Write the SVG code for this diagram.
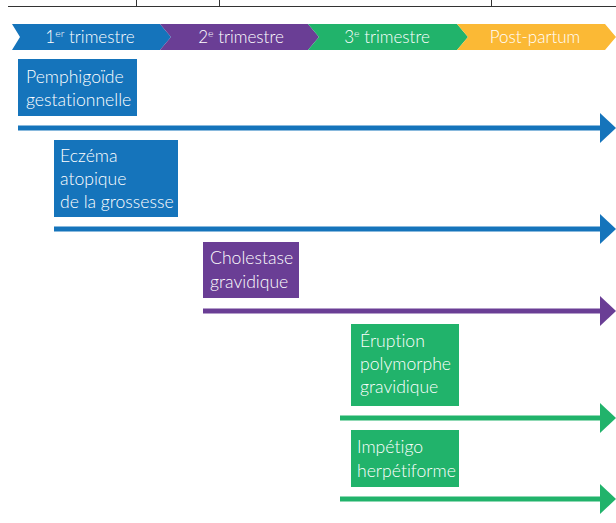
<svg xmlns="http://www.w3.org/2000/svg" width="616" height="523" viewBox="0 0 616 523">
<style>
.t{font-family:Lato,"Liberation Sans",sans-serif;font-size:17.6px;font-weight:300;fill:#ffffff;font-variant-ligatures:none}
.h{font-family:Lato,"Liberation Sans",sans-serif;font-size:17px;font-weight:300;fill:#ffffff;text-anchor:middle}
.s{font-size:10.5px}
.blue{fill:#1574bb}
.purple{fill:#6a3e95}
.green{fill:#21b36b}
.yellow{fill:#fbb935}
.lb{stroke:#1574bb;stroke-width:5;fill:none}
.lp{stroke:#6a3e95;stroke-width:5;fill:none}
.lg{stroke:#21b36b;stroke-width:5;fill:none}
</style>
<rect width="616" height="523" fill="#ffffff"/>
<g id="table-edge" stroke="#333333" stroke-width="1" fill="none">
<line x1="8" y1="6.5" x2="616" y2="6.5"/>
<line x1="136.5" y1="0" x2="136.5" y2="6.5"/>
<line x1="219.5" y1="0" x2="219.5" y2="6.5"/>
<line x1="491.5" y1="0" x2="491.5" y2="6.5"/>
</g>
<g id="band">
<g id="t1"><polygon class="blue" points="12,24 160,24 171,37 160,50 12,50 20,37"/><text class="h" x="90" y="43">1<tspan class="s" dy="-6">er</tspan><tspan dy="6"> trimestre</tspan></text></g>
<g id="t2"><polygon class="purple" points="160,24 308,24 319,37 308,50 160,50 171,37"/><text class="h" x="241" y="43">2<tspan class="s" dy="-6">e</tspan><tspan dy="6"> trimestre</tspan></text></g>
<g id="t3"><polygon class="green" points="308,24 457,24 468,37 457,50 308,50 319,37"/><text class="h" x="387" y="43">3<tspan class="s" dy="-6">e</tspan><tspan dy="6"> trimestre</tspan></text></g>
<g id="pp"><polygon class="yellow" points="457,24 605,24 616,37 605,50 457,50 468,37"/><text class="h" x="535" y="43">Post-partum</text></g>
</g>
<g id="connectors">
<line class="lb" x1="18" y1="128" x2="602" y2="128"/><polygon class="blue" points="600,113 616,128 600,143"/>
<line class="lb" x1="54" y1="229" x2="602" y2="229"/><polygon class="blue" points="600,214 616,229 600,244"/>
<line class="lp" x1="203" y1="311" x2="602" y2="311"/><polygon class="purple" points="600,296 616,311 600,326"/>
<line class="lg" x1="340" y1="418" x2="602" y2="418"/><polygon class="green" points="600,403 616,418 600,433"/>
<line class="lg" x1="340" y1="499" x2="602" y2="499"/><polygon class="green" points="600,484 616,499 600,514"/>
</g>
<g id="pemphigoide"><rect class="blue" x="18" y="59" width="119" height="57"/><text class="t" x="26" y="83">Pemphigoïde<tspan x="26" y="106">gestationnelle</tspan></text></g>
<g id="eczema"><rect class="blue" x="54" y="140" width="124" height="77"/><text class="t" x="60" y="162">Eczéma<tspan x="60" y="185">atopique</tspan><tspan x="60" y="208">de la grossesse</tspan></text></g>
<g id="cholestase"><rect class="purple" x="203" y="242" width="96" height="56"/><text class="t" x="210" y="264">Cholestase<tspan x="210" y="288">gravidique</tspan></text></g>
<g id="eruption"><rect class="green" x="351" y="324" width="108" height="82"/><text class="t" x="360" y="347">Éruption<tspan x="360" y="370">polymorphe</tspan><tspan x="360" y="393">gravidique</tspan></text></g>
<g id="impetigo"><rect class="green" x="351" y="430" width="108" height="57"/><text class="t" x="357" y="453">Impétigo<tspan x="357" y="477">herpétiforme</tspan></text></g>
</svg>
